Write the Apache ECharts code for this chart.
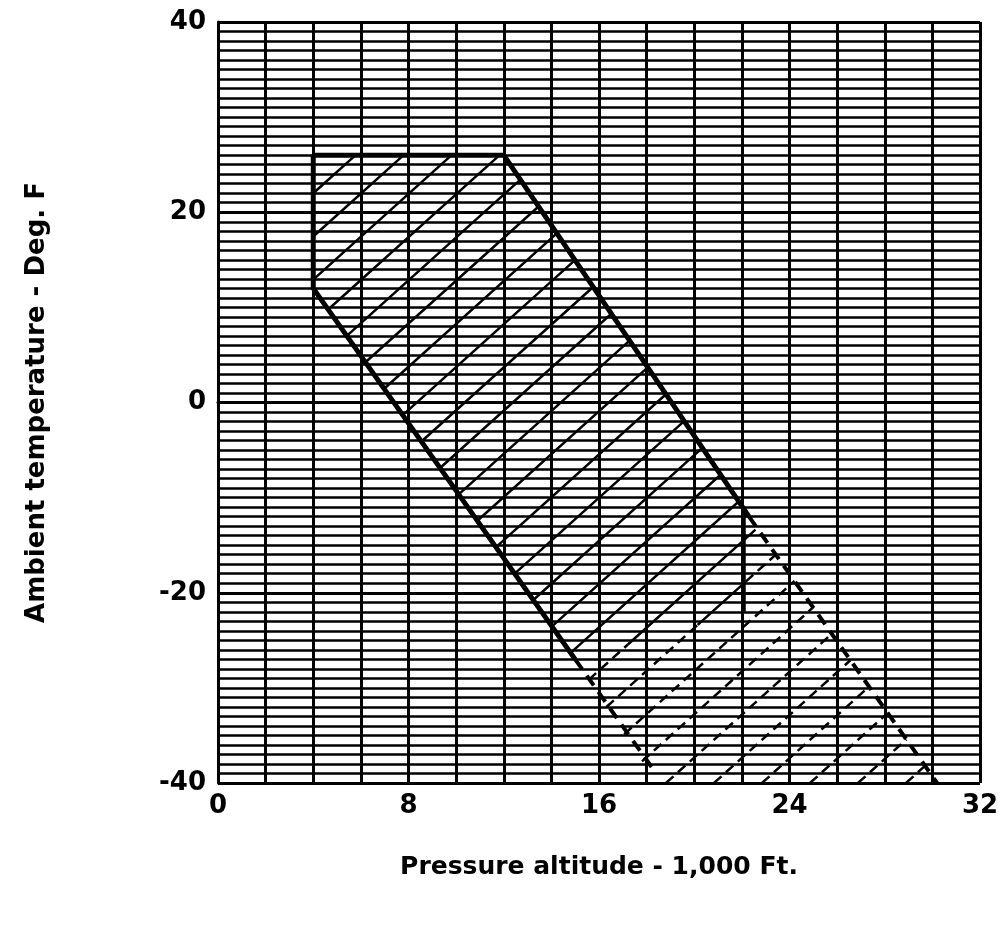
<!DOCTYPE html>
<html>
<head>
<meta charset="utf-8">
<script src="https://cdn.jsdelivr.net/npm/echarts@6/dist/echarts.min.js"></script>
<style>
  html, body { margin: 0; padding: 0; background: #fff; }
  #chart { width: 1005px; height: 926px; }
</style>
</head>
<body>
<div id="chart"></div>
<script>
// axis ranges / ticks
const xTicks = [0, 8, 16, 24, 32];
const yTicks = [-40, -20, 0, 20, 40];

// envelope edges: [altitude (1,000 ft), temperature (deg F)]
const solidEdge = [[15, -27], [4, 12], [4, 26], [12, 26], [22.3, -12]];
const innerEdge = [[22.1, -11], [22.1, -22]];
const dashedRightEdge = [[22.3, -12], [30.2, -40]];
const dashedLowerEdge = [[15, -27], [18.4, -39]];

// hatched zones
const solidZone = [[4, 26], [12, 26], [22.3, -12], [22.1, -22], [15, -27], [4, 12]];
const dashedZone = [[15, -27], [22.1, -22], [22.3, -12], [30.2, -40], [18.4, -40]];

const chart = echarts.init(document.getElementById('chart'));

// hatch lines (pixel slope ~ -0.9), clipped to a polygon with even-odd rule
function hatch(zone, dashed) {
  return function (params, api) {
    const pts = zone.map(p => api.coord(p));
    const a = 0.9, step = 48 * a;
    const cs = pts.map(p => a * p[0] + p[1]);
    const cMin = Math.min(...cs), cMax = Math.max(...cs);
    const children = [];
    for (let c = Math.ceil(cMin / step) * step; c <= cMax; c += step) {
      const xs = [];
      for (let i = 0; i < pts.length; i++) {
        const A = pts[i], B = pts[(i + 1) % pts.length];
        const fa = a * A[0] + A[1] - c, fb = a * B[0] + B[1] - c;
        if ((fa < 0) !== (fb < 0)) {
          const t = fa / (fa - fb);
          xs.push(A[0] + t * (B[0] - A[0]));
        }
      }
      xs.sort((p, q) => p - q);
      for (let k = 0; k + 1 < xs.length; k += 2) {
        children.push({
          type: 'line',
          shape: { x1: xs[k], y1: c - a * xs[k], x2: xs[k + 1], y2: c - a * xs[k + 1] },
          style: { stroke: '#000', lineWidth: 2.5, lineDash: dashed ? [10, 6] : null }
        });
      }
    }
    return { type: 'group', children };
  };
}

const fontFam = 'DejaVu Sans';

chart.setOption({
  animation: false,
  backgroundColor: '#fff',
  grid: { left: 218, right: 25, top: 22, bottom: 143 },
  xAxis: {
    type: 'value',
    min: xTicks[0], max: xTicks[xTicks.length - 1], interval: 8,
    name: 'Pressure altitude - 1,000 Ft.',
    nameLocation: 'middle', nameGap: 72,
    nameTextStyle: { color: '#000', fontSize: 25, fontWeight: 'bold', fontFamily: fontFam },
    axisLine: { show: true, lineStyle: { color: '#000', width: 3 } },
    axisTick: { show: false },
    axisLabel: { color: '#000', fontSize: 26, fontWeight: 'bold', fontFamily: fontFam, margin: 10 },
    splitLine: { show: true, lineStyle: { color: '#000', width: 3 } },
    minorTick: { show: false, splitNumber: 4 },
    minorSplitLine: { show: true, lineStyle: { color: '#000', width: 3 } }
  },
  yAxis: {
    type: 'value',
    min: yTicks[0], max: yTicks[yTicks.length - 1], interval: 20,
    name: 'Ambient temperature - Deg. F',
    nameLocation: 'middle', nameGap: 168,
    nameTextStyle: { color: '#000', fontSize: 26, fontWeight: 'bold', fontFamily: fontFam },
    axisLine: { show: true, lineStyle: { color: '#000', width: 3 } },
    axisTick: { show: false },
    axisLabel: { color: '#000', fontSize: 26, fontWeight: 'bold', fontFamily: fontFam, margin: 12 },
    splitLine: { show: true, lineStyle: { color: '#000', width: 3 } },
    minorTick: { show: false, splitNumber: 20 },
    minorSplitLine: { show: true, lineStyle: { color: '#000', width: 2.5 } }
  },
  series: [
    { type: 'custom', data: [0], renderItem: hatch(solidZone, false), clip: true, z: 3 },
    { type: 'custom', data: [0], renderItem: hatch(dashedZone, true), clip: true, z: 3 },
    { type: 'line', data: solidEdge, symbol: 'none', lineStyle: { color: '#000', width: 5 }, z: 4 },
    { type: 'line', data: innerEdge, symbol: 'none', lineStyle: { color: '#000', width: 3 }, z: 4 },
    { type: 'line', data: dashedRightEdge, symbol: 'none', lineStyle: { color: '#000', width: 4, type: [12, 8] }, z: 4 },
    { type: 'line', data: dashedLowerEdge, symbol: 'none', lineStyle: { color: '#000', width: 4, type: [12, 8] }, z: 4 }
  ]
});
</script>
</body>
</html>
